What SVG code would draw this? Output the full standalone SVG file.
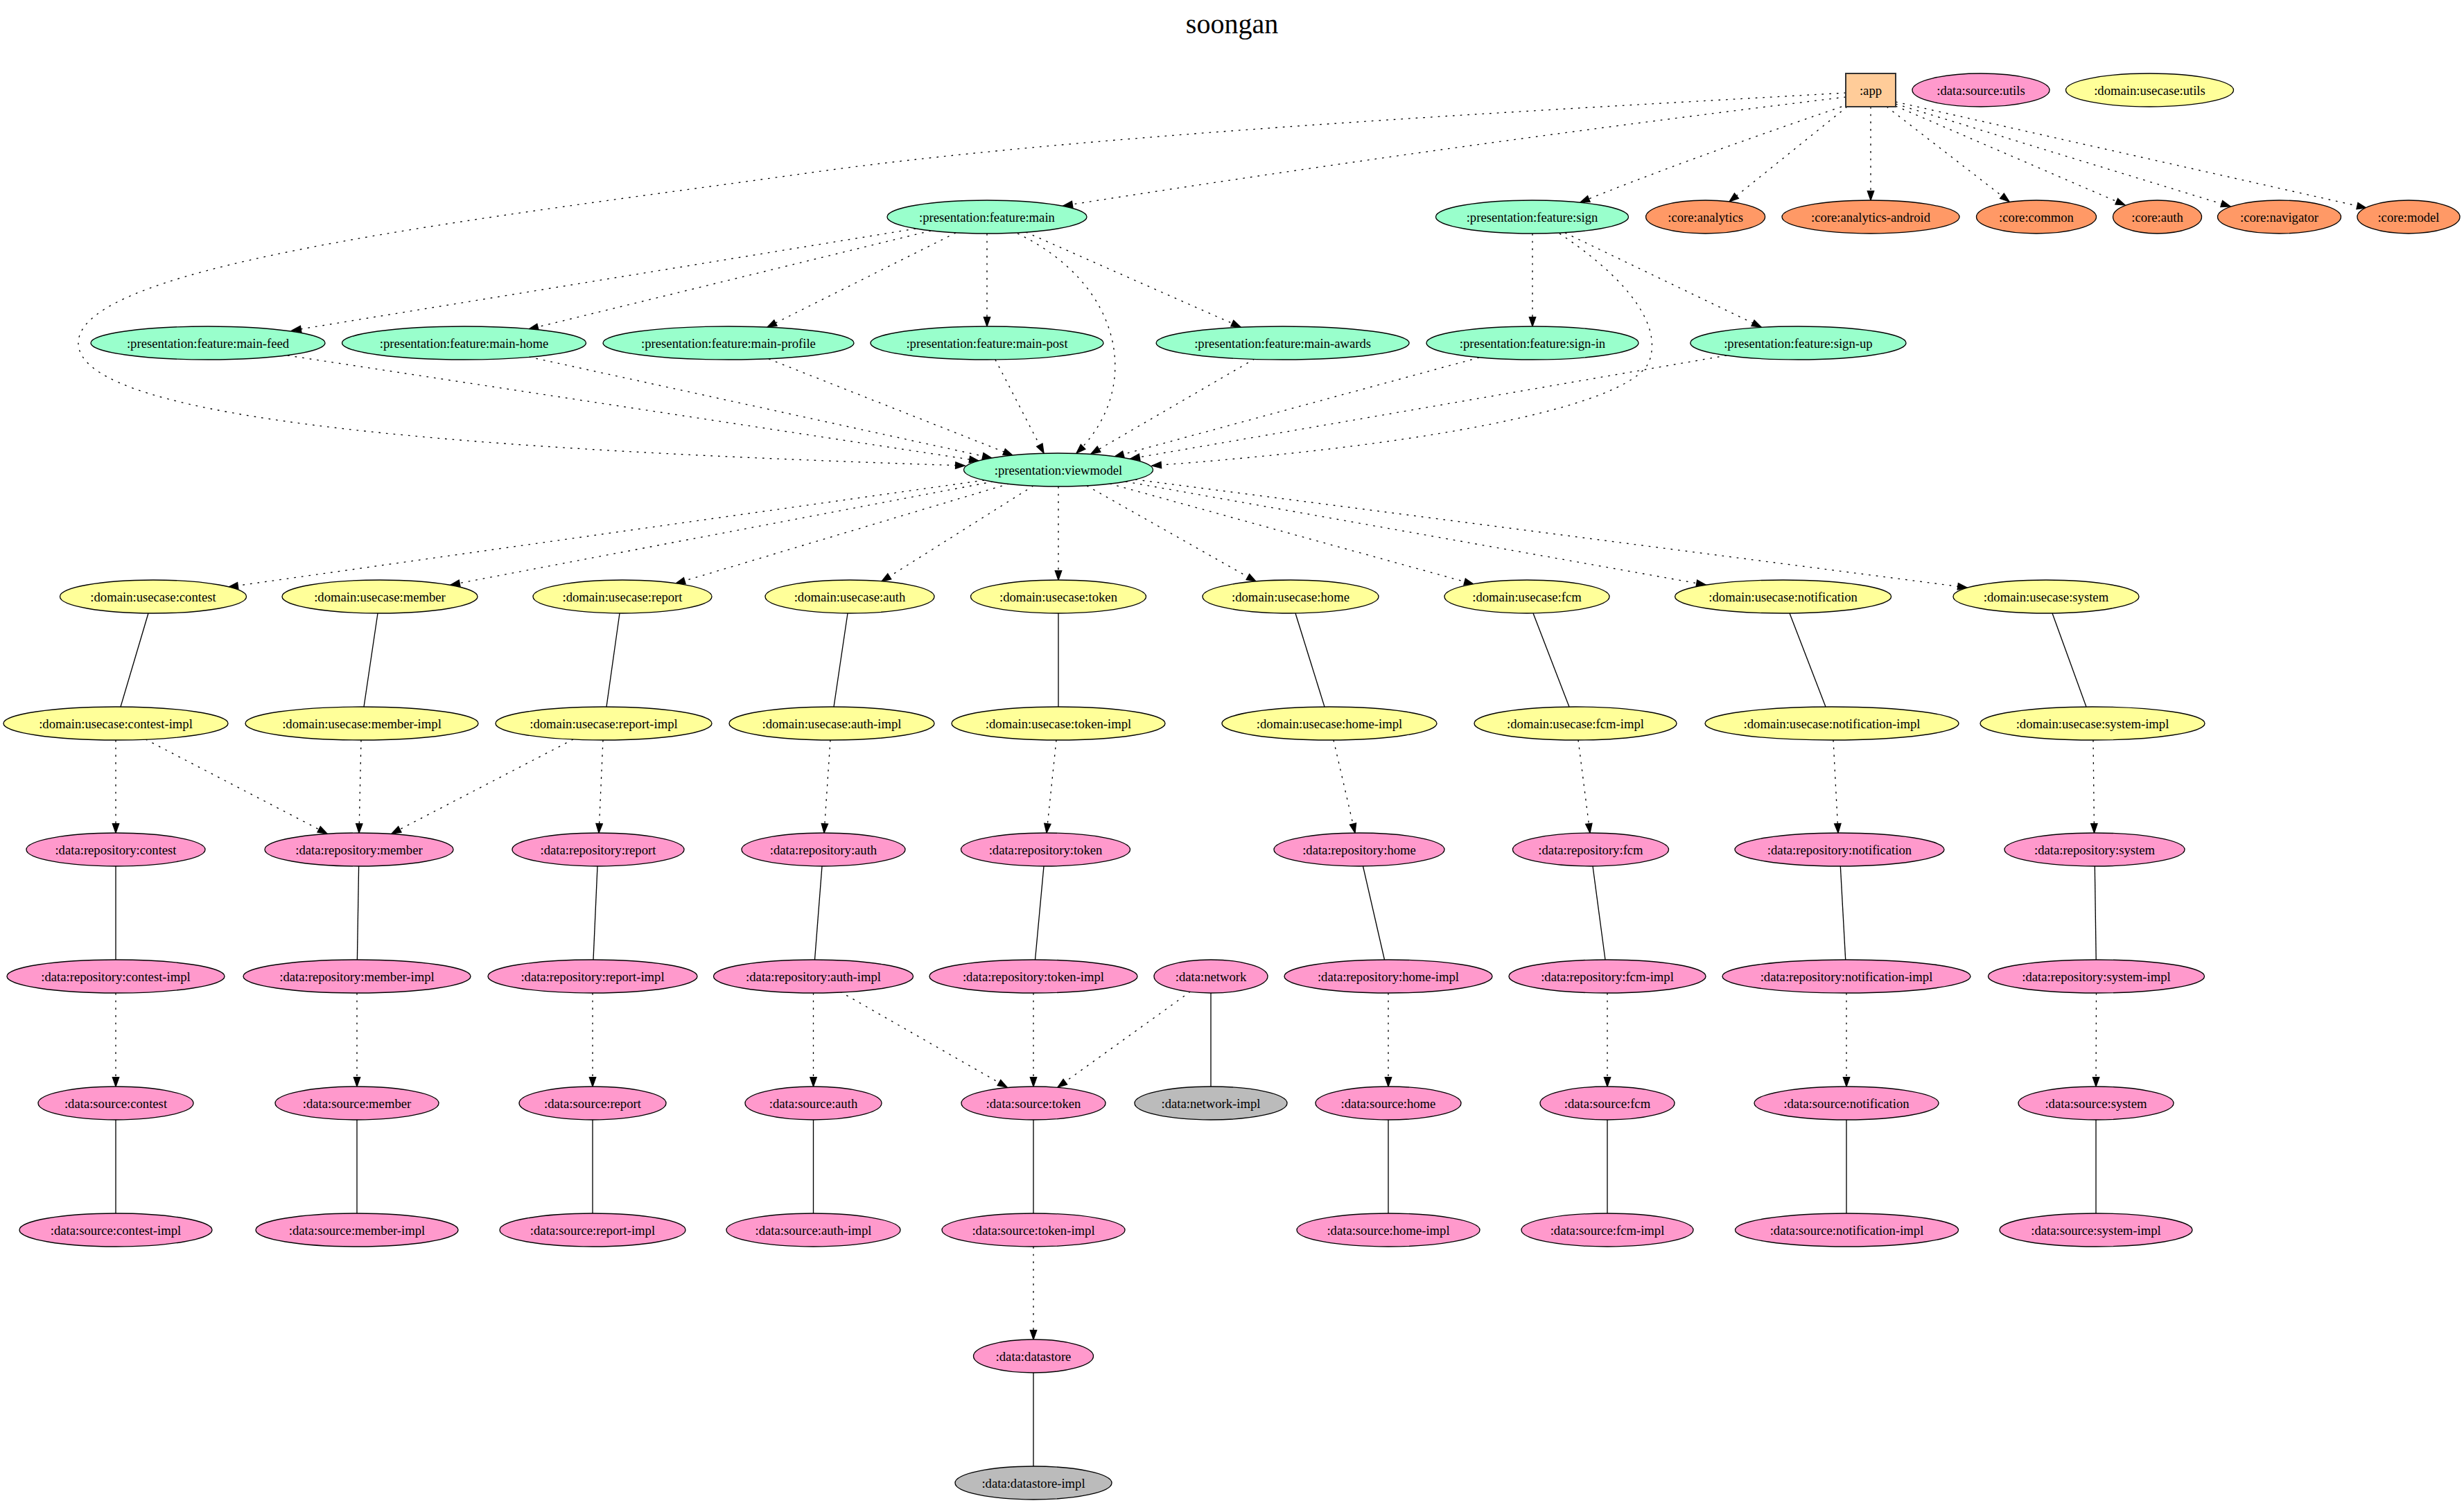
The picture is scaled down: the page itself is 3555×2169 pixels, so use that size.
<svg xmlns="http://www.w3.org/2000/svg" width="3555" height="2169" viewBox="0 0 3555 2169">
<style>
.node ellipse, .node rect {stroke:#000; stroke-width:1.33}
.node rect {stroke-width:2; stroke:#333}
.p {fill:#99FFCC} .d {fill:#FFFF99} .k {fill:#FF99CC} .c {fill:#FF9966} .a {fill:#FFCC99} .g {fill:#BBBBBB}
text {font-family:"Liberation Serif","Times New Roman",serif; font-size:18.67px; text-anchor:middle; fill:#000}
.title {font-size:40px}
.e {fill:none; stroke:#000; stroke-width:1.33}
.dt {stroke-dasharray:2.67 8; marker-end:url(#arr)}
</style>
<defs>
<marker id="arr" markerWidth="16" markerHeight="12" viewBox="-1 -6 16 12" refX="13.33" refY="0" orient="auto" markerUnits="userSpaceOnUse" overflow="visible">
<path d="M0,-4.67 L13.33,0 L0,4.67 Z" fill="#000" stroke="#000" stroke-width="1.33"/>
</marker>
</defs>
<rect width="3555" height="2169" fill="#fff"/>
<text class="title" x="1777.5" y="48">soongan</text>

<g id="connectors">
<path class="e dt" d="M2663,140 Q2100,208 1534,297"/>
<path class="e dt" d="M2657,154 Q2420,235 2280,292"/>
<path class="e dt" d="M2665,154 L2495,291"/>
<path class="e dt" d="M2699,154 L2699,289"/>
<path class="e dt" d="M2722,154 L2899,291"/>
<path class="e dt" d="M2735,153 L3066,296"/>
<path class="e dt" d="M2735,150 L3218,298"/>
<path class="e dt" d="M2735,147 L3414,300"/>
<path class="e dt" d="M2663,134 C2300,155 1600,190 1185,247 C700,315 113,380 113,495 C113,610 700,650 1392,672"/>
<path class="e dt" d="M1321,330 L421,477"/>
<path class="e dt" d="M1343,333 L763,475"/>
<path class="e dt" d="M1379,336 L1107,472"/>
<path class="e dt" d="M1424,337 L1424,471"/>
<path class="e dt" d="M1480,335 L1790,472"/>
<path class="e dt" d="M1468,337 C1620,410 1650,560 1553,654"/>
<path class="e dt" d="M2211,337 L2211,471"/>
<path class="e dt" d="M2258,336 L2541,472"/>
<path class="e dt" d="M2250,337 C2330,390 2400,460 2380,520 C2360,580 2100,640 1662,672"/>
<path class="e dt" d="M415,513 L1412,665"/>
<path class="e dt" d="M763,515 L1431,661"/>
<path class="e dt" d="M1109,518 L1461,657"/>
<path class="e dt" d="M1436,519 L1506,654"/>
<path class="e dt" d="M1810,518 L1574,655"/>
<path class="e dt" d="M2134,516 L1608,659"/>
<path class="e dt" d="M2491,513 L1631,662"/>
<path class="e dt" d="M1420,693 L330,847"/>
<path class="e dt" d="M1433,695 L650,844"/>
<path class="e dt" d="M1456,698 L975,842"/>
<path class="e dt" d="M1491,701 L1272,839"/>
<path class="e dt" d="M1527,702 L1527,837"/>
<path class="e dt" d="M1568,701 L1812,839"/>
<path class="e dt" d="M1601,698 L2126,843"/>
<path class="e dt" d="M1624,695 L2461,844"/>
<path class="e dt" d="M1638,692 L2838,848"/>
<path class="e" d="M214,885 L174,1020"/>
<path class="e" d="M545,885 L525,1020"/>
<path class="e" d="M894,885 L875,1020"/>
<path class="e" d="M1223,885 L1203,1020"/>
<path class="e" d="M1527,885 L1527,1020"/>
<path class="e" d="M1869,885 L1911,1020"/>
<path class="e" d="M2212,885 L2264,1020"/>
<path class="e" d="M2582,885 L2634,1020"/>
<path class="e" d="M2961,885 L3010,1020"/>
<path class="e dt" d="M167,1068 L167,1202"/>
<path class="e dt" d="M210,1067 L472,1203"/>
<path class="e dt" d="M521,1068 L518,1202"/>
<path class="e dt" d="M827,1067 L565,1203"/>
<path class="e dt" d="M870,1068 L864,1202"/>
<path class="e dt" d="M1198,1068 L1189,1202"/>
<path class="e dt" d="M1524,1068 L1510,1202"/>
<path class="e dt" d="M1924,1068 L1955,1202"/>
<path class="e dt" d="M2277,1068 L2294,1202"/>
<path class="e dt" d="M2645,1068 L2652,1202"/>
<path class="e dt" d="M3020,1068 L3021.5,1202"/>
<path class="e" d="M167,1250 L167,1385"/>
<path class="e" d="M517.6,1250 L515.4,1385"/>
<path class="e" d="M862,1250 L856,1385"/>
<path class="e" d="M1186,1250 L1175.5,1385"/>
<path class="e" d="M1506,1250 L1493.5,1385"/>
<path class="e" d="M1966.5,1250 L1997.5,1385"/>
<path class="e" d="M2298,1250 L2316,1385"/>
<path class="e" d="M2655.3,1250 L2662.7,1385"/>
<path class="e" d="M3022.3,1250 L3024.2,1385"/>
<path class="e dt" d="M167,1433 L167,1568"/>
<path class="e dt" d="M515,1433 L515,1568"/>
<path class="e dt" d="M855,1433 L855,1568"/>
<path class="e dt" d="M1173.5,1433 L1173.5,1568"/>
<path class="e dt" d="M1212,1431 L1453,1569"/>
<path class="e dt" d="M1491,1433 L1491,1568"/>
<path class="e dt" d="M1717.5,1431 L1526,1569"/>
<path class="e dt" d="M2003,1433 L2003,1568"/>
<path class="e dt" d="M2319,1433 L2319,1568"/>
<path class="e dt" d="M2664,1433 L2664,1568"/>
<path class="e dt" d="M3024.5,1433 L3024,1568"/>
<path class="e" d="M1747,1433 L1747,1568"/>
<path class="e" d="M167,1616 L167,1751"/>
<path class="e" d="M515,1616 L515,1751"/>
<path class="e" d="M855,1616 L855,1751"/>
<path class="e" d="M1173.5,1616 L1173.5,1751"/>
<path class="e" d="M1491,1616 L1491,1751"/>
<path class="e" d="M2003,1616 L2003,1751"/>
<path class="e" d="M2319,1616 L2319,1751"/>
<path class="e" d="M2664,1616 L2664,1751"/>
<path class="e" d="M3024,1616 L3024,1751"/>
<path class="e dt" d="M1491,1799 L1491,1933"/>
<path class="e" d="M1491,1981 L1491,2116"/>
</g>

<g id="app" class="node"><rect class="a" x="2663" y="106" width="72" height="48"/><text x="2699" y="136.5">:app</text></g>
<g id="data-source-utils" class="node"><ellipse class="k" cx="2858" cy="130" rx="99" ry="24"/><text x="2858" y="136.5">:data:source:utils</text></g>
<g id="domain-usecase-utils" class="node"><ellipse class="d" cx="3101.5" cy="130" rx="121" ry="24"/><text x="3101.5" y="136.5">:domain:usecase:utils</text></g>

<g id="presentation-feature-main" class="node"><ellipse class="p" cx="1424" cy="313" rx="144" ry="24"/><text x="1424" y="319.5">:presentation:feature:main</text></g>
<g id="presentation-feature-sign" class="node"><ellipse class="p" cx="2210.5" cy="313" rx="139" ry="24"/><text x="2210.5" y="319.5">:presentation:feature:sign</text></g>
<g id="core-analytics" class="node"><ellipse class="c" cx="2460.6" cy="313" rx="86" ry="24"/><text x="2460.6" y="319.5">:core:analytics</text></g>
<g id="core-analytics-android" class="node"><ellipse class="c" cx="2699" cy="313" rx="128" ry="24"/><text x="2699" y="319.5">:core:analytics-android</text></g>
<g id="core-common" class="node"><ellipse class="c" cx="2938" cy="313" rx="86.5" ry="24"/><text x="2938" y="319.5">:core:common</text></g>
<g id="core-auth" class="node"><ellipse class="c" cx="3112.5" cy="313" rx="64" ry="24"/><text x="3112.5" y="319.5">:core:auth</text></g>
<g id="core-navigator" class="node"><ellipse class="c" cx="3288.5" cy="313" rx="89" ry="24"/><text x="3288.5" y="319.5">:core:navigator</text></g>
<g id="core-model" class="node"><ellipse class="c" cx="3475" cy="313" rx="74" ry="24"/><text x="3475" y="319.5">:core:model</text></g>

<g id="presentation-feature-main-feed" class="node"><ellipse class="p" cx="300" cy="495" rx="169" ry="24"/><text x="300" y="501.5">:presentation:feature:main-feed</text></g>
<g id="presentation-feature-main-home" class="node"><ellipse class="p" cx="669.5" cy="495" rx="176" ry="24"/><text x="669.5" y="501.5">:presentation:feature:main-home</text></g>
<g id="presentation-feature-main-profile" class="node"><ellipse class="p" cx="1051" cy="495" rx="181" ry="24"/><text x="1051" y="501.5">:presentation:feature:main-profile</text></g>
<g id="presentation-feature-main-post" class="node"><ellipse class="p" cx="1424" cy="495" rx="168" ry="24"/><text x="1424" y="501.5">:presentation:feature:main-post</text></g>
<g id="presentation-feature-main-awards" class="node"><ellipse class="p" cx="1850.6" cy="495" rx="182.5" ry="24"/><text x="1850.6" y="501.5">:presentation:feature:main-awards</text></g>
<g id="presentation-feature-sign-in" class="node"><ellipse class="p" cx="2211" cy="495" rx="153" ry="24"/><text x="2211" y="501.5">:presentation:feature:sign-in</text></g>
<g id="presentation-feature-sign-up" class="node"><ellipse class="p" cx="2594.4" cy="495" rx="155.6" ry="24"/><text x="2594.4" y="501.5">:presentation:feature:sign-up</text></g>

<g id="presentation-viewmodel" class="node"><ellipse class="p" cx="1527" cy="678" rx="136.5" ry="24"/><text x="1527" y="684.5">:presentation:viewmodel</text></g>

<g id="domain-usecase-contest" class="node"><ellipse class="d" cx="221" cy="861" rx="134.5" ry="24"/><text x="221" y="867.5">:domain:usecase:contest</text></g>
<g id="domain-usecase-member" class="node"><ellipse class="d" cx="548" cy="861" rx="141" ry="24"/><text x="548" y="867.5">:domain:usecase:member</text></g>
<g id="domain-usecase-report" class="node"><ellipse class="d" cx="898" cy="861" rx="129" ry="24"/><text x="898" y="867.5">:domain:usecase:report</text></g>
<g id="domain-usecase-auth" class="node"><ellipse class="d" cx="1226" cy="861" rx="122" ry="24"/><text x="1226" y="867.5">:domain:usecase:auth</text></g>
<g id="domain-usecase-token" class="node"><ellipse class="d" cx="1527" cy="861" rx="126.5" ry="24"/><text x="1527" y="867.5">:domain:usecase:token</text></g>
<g id="domain-usecase-home" class="node"><ellipse class="d" cx="1862" cy="861" rx="127" ry="24"/><text x="1862" y="867.5">:domain:usecase:home</text></g>
<g id="domain-usecase-fcm" class="node"><ellipse class="d" cx="2203" cy="861" rx="119" ry="24"/><text x="2203" y="867.5">:domain:usecase:fcm</text></g>
<g id="domain-usecase-notification" class="node"><ellipse class="d" cx="2572.6" cy="861" rx="156" ry="24"/><text x="2572.6" y="867.5">:domain:usecase:notification</text></g>
<g id="domain-usecase-system" class="node"><ellipse class="d" cx="2952" cy="861" rx="134" ry="24"/><text x="2952" y="867.5">:domain:usecase:system</text></g>

<g id="domain-usecase-contest-impl" class="node"><ellipse class="d" cx="167" cy="1044" rx="162" ry="24"/><text x="167" y="1050.5">:domain:usecase:contest-impl</text></g>
<g id="domain-usecase-member-impl" class="node"><ellipse class="d" cx="522" cy="1044" rx="168" ry="24"/><text x="522" y="1050.5">:domain:usecase:member-impl</text></g>
<g id="domain-usecase-report-impl" class="node"><ellipse class="d" cx="871" cy="1044" rx="156" ry="24"/><text x="871" y="1050.5">:domain:usecase:report-impl</text></g>
<g id="domain-usecase-auth-impl" class="node"><ellipse class="d" cx="1200" cy="1044" rx="148" ry="24"/><text x="1200" y="1050.5">:domain:usecase:auth-impl</text></g>
<g id="domain-usecase-token-impl" class="node"><ellipse class="d" cx="1527" cy="1044" rx="154" ry="24"/><text x="1527" y="1050.5">:domain:usecase:token-impl</text></g>
<g id="domain-usecase-home-impl" class="node"><ellipse class="d" cx="1918" cy="1044" rx="155" ry="24"/><text x="1918" y="1050.5">:domain:usecase:home-impl</text></g>
<g id="domain-usecase-fcm-impl" class="node"><ellipse class="d" cx="2273" cy="1044" rx="146" ry="24"/><text x="2273" y="1050.5">:domain:usecase:fcm-impl</text></g>
<g id="domain-usecase-notification-impl" class="node"><ellipse class="d" cx="2643" cy="1044" rx="183" ry="24"/><text x="2643" y="1050.5">:domain:usecase:notification-impl</text></g>
<g id="domain-usecase-system-impl" class="node"><ellipse class="d" cx="3019" cy="1044" rx="162" ry="24"/><text x="3019" y="1050.5">:domain:usecase:system-impl</text></g>

<g id="data-repository-contest" class="node"><ellipse class="k" cx="167" cy="1226" rx="129" ry="24"/><text x="167" y="1232.5">:data:repository:contest</text></g>
<g id="data-repository-member" class="node"><ellipse class="k" cx="518" cy="1226" rx="136" ry="24"/><text x="518" y="1232.5">:data:repository:member</text></g>
<g id="data-repository-report" class="node"><ellipse class="k" cx="863" cy="1226" rx="124" ry="24"/><text x="863" y="1232.5">:data:repository:report</text></g>
<g id="data-repository-auth" class="node"><ellipse class="k" cx="1188" cy="1226" rx="118" ry="24"/><text x="1188" y="1232.5">:data:repository:auth</text></g>
<g id="data-repository-token" class="node"><ellipse class="k" cx="1508.5" cy="1226" rx="122" ry="24"/><text x="1508.5" y="1232.5">:data:repository:token</text></g>
<g id="data-repository-home" class="node"><ellipse class="k" cx="1961" cy="1226" rx="123" ry="24"/><text x="1961" y="1232.5">:data:repository:home</text></g>
<g id="data-repository-fcm" class="node"><ellipse class="k" cx="2295" cy="1226" rx="112.5" ry="24"/><text x="2295" y="1232.5">:data:repository:fcm</text></g>
<g id="data-repository-notification" class="node"><ellipse class="k" cx="2654" cy="1226" rx="151" ry="24"/><text x="2654" y="1232.5">:data:repository:notification</text></g>
<g id="data-repository-system" class="node"><ellipse class="k" cx="3022" cy="1226" rx="130" ry="24"/><text x="3022" y="1232.5">:data:repository:system</text></g>

<g id="data-repository-contest-impl" class="node"><ellipse class="k" cx="167" cy="1409" rx="157" ry="24"/><text x="167" y="1415.5">:data:repository:contest-impl</text></g>
<g id="data-repository-member-impl" class="node"><ellipse class="k" cx="515" cy="1409" rx="164" ry="24"/><text x="515" y="1415.5">:data:repository:member-impl</text></g>
<g id="data-repository-report-impl" class="node"><ellipse class="k" cx="855" cy="1409" rx="151" ry="24"/><text x="855" y="1415.5">:data:repository:report-impl</text></g>
<g id="data-repository-auth-impl" class="node"><ellipse class="k" cx="1173.5" cy="1409" rx="144" ry="24"/><text x="1173.5" y="1415.5">:data:repository:auth-impl</text></g>
<g id="data-repository-token-impl" class="node"><ellipse class="k" cx="1491" cy="1409" rx="150" ry="24"/><text x="1491" y="1415.5">:data:repository:token-impl</text></g>
<g id="data-network" class="node"><ellipse class="k" cx="1747" cy="1409" rx="82" ry="24"/><text x="1747" y="1415.5">:data:network</text></g>
<g id="data-repository-home-impl" class="node"><ellipse class="k" cx="2003" cy="1409" rx="150" ry="24"/><text x="2003" y="1415.5">:data:repository:home-impl</text></g>
<g id="data-repository-fcm-impl" class="node"><ellipse class="k" cx="2319" cy="1409" rx="142" ry="24"/><text x="2319" y="1415.5">:data:repository:fcm-impl</text></g>
<g id="data-repository-notification-impl" class="node"><ellipse class="k" cx="2664" cy="1409" rx="179" ry="24"/><text x="2664" y="1415.5">:data:repository:notification-impl</text></g>
<g id="data-repository-system-impl" class="node"><ellipse class="k" cx="3024.5" cy="1409" rx="156" ry="24"/><text x="3024.5" y="1415.5">:data:repository:system-impl</text></g>

<g id="data-source-contest" class="node"><ellipse class="k" cx="167" cy="1592" rx="112" ry="24"/><text x="167" y="1598.5">:data:source:contest</text></g>
<g id="data-source-member" class="node"><ellipse class="k" cx="515" cy="1592" rx="118" ry="24"/><text x="515" y="1598.5">:data:source:member</text></g>
<g id="data-source-report" class="node"><ellipse class="k" cx="855" cy="1592" rx="106" ry="24"/><text x="855" y="1598.5">:data:source:report</text></g>
<g id="data-source-auth" class="node"><ellipse class="k" cx="1173.5" cy="1592" rx="98.5" ry="24"/><text x="1173.5" y="1598.5">:data:source:auth</text></g>
<g id="data-source-token" class="node"><ellipse class="k" cx="1491" cy="1592" rx="104" ry="24"/><text x="1491" y="1598.5">:data:source:token</text></g>
<g id="data-network-impl" class="node"><ellipse class="g" cx="1747" cy="1592" rx="110" ry="24"/><text x="1747" y="1598.5">:data:network-impl</text></g>
<g id="data-source-home" class="node"><ellipse class="k" cx="2003" cy="1592" rx="105" ry="24"/><text x="2003" y="1598.5">:data:source:home</text></g>
<g id="data-source-fcm" class="node"><ellipse class="k" cx="2319" cy="1592" rx="97" ry="24"/><text x="2319" y="1598.5">:data:source:fcm</text></g>
<g id="data-source-notification" class="node"><ellipse class="k" cx="2664" cy="1592" rx="133" ry="24"/><text x="2664" y="1598.5">:data:source:notification</text></g>
<g id="data-source-system" class="node"><ellipse class="k" cx="3024" cy="1592" rx="112" ry="24"/><text x="3024" y="1598.5">:data:source:system</text></g>

<g id="data-source-contest-impl" class="node"><ellipse class="k" cx="167" cy="1775" rx="139" ry="24"/><text x="167" y="1781.5">:data:source:contest-impl</text></g>
<g id="data-source-member-impl" class="node"><ellipse class="k" cx="515" cy="1775" rx="146" ry="24"/><text x="515" y="1781.5">:data:source:member-impl</text></g>
<g id="data-source-report-impl" class="node"><ellipse class="k" cx="855" cy="1775" rx="134" ry="24"/><text x="855" y="1781.5">:data:source:report-impl</text></g>
<g id="data-source-auth-impl" class="node"><ellipse class="k" cx="1173.5" cy="1775" rx="125.5" ry="24"/><text x="1173.5" y="1781.5">:data:source:auth-impl</text></g>
<g id="data-source-token-impl" class="node"><ellipse class="k" cx="1491" cy="1775" rx="132" ry="24"/><text x="1491" y="1781.5">:data:source:token-impl</text></g>
<g id="data-source-home-impl" class="node"><ellipse class="k" cx="2003" cy="1775" rx="132" ry="24"/><text x="2003" y="1781.5">:data:source:home-impl</text></g>
<g id="data-source-fcm-impl" class="node"><ellipse class="k" cx="2319" cy="1775" rx="124" ry="24"/><text x="2319" y="1781.5">:data:source:fcm-impl</text></g>
<g id="data-source-notification-impl" class="node"><ellipse class="k" cx="2664.5" cy="1775" rx="161" ry="24"/><text x="2664.5" y="1781.5">:data:source:notification-impl</text></g>
<g id="data-source-system-impl" class="node"><ellipse class="k" cx="3024" cy="1775" rx="139" ry="24"/><text x="3024" y="1781.5">:data:source:system-impl</text></g>

<g id="data-datastore" class="node"><ellipse class="k" cx="1491" cy="1957" rx="86.5" ry="24"/><text x="1491" y="1963.5">:data:datastore</text></g>
<g id="data-datastore-impl" class="node"><ellipse class="g" cx="1491" cy="2140" rx="113" ry="24"/><text x="1491" y="2146.5">:data:datastore-impl</text></g>
</svg>
